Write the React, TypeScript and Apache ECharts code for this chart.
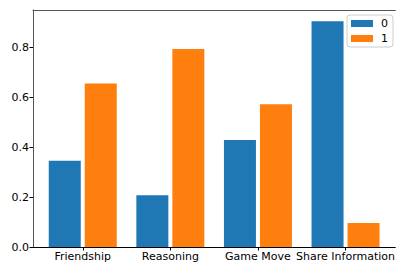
import React, { useEffect, useRef } from "react";
import * as echarts from "echarts";

const categories = ["Friendship", "Reasoning", "Game Move", "Share Information"];
const seriesNames = ["0", "1"];
const series0 = [0.345, 0.207, 0.428, 0.904];
const series1 = [0.655, 0.793, 0.572, 0.096];
const yTicks = [0, 0.2, 0.4, 0.6, 0.8];

const FONT = "DejaVu Sans";

export default function App() {
  const ref = useRef<HTMLDivElement>(null);
  useEffect(() => {
    if (!ref.current) return;
    const chart = echarts.init(ref.current, undefined, { renderer: "svg" });
    const idx = categories.map((_, i) => i);
    const xMin = -0.568;
    const xMax = 3.568;
    chart.setOption({
      animation: false,
      textStyle: { fontFamily: FONT },
      grid: {
        left: 33,
        right: 1,
        top: 10,
        bottom: 18,
        show: false,
      },
      legend: {
        left: 347,
        top: 15,
        orient: "vertical",
        icon: "rect",
        itemWidth: 22,
        itemHeight: 7,
        itemGap: 4,
        padding: [3, 5, 3, 4],
        borderColor: "#cccccc",
        borderWidth: 1,
        borderRadius: 3,
        backgroundColor: "rgba(255,255,255,0.8)",
        textStyle: { fontFamily: FONT, fontSize: 11, color: "#000", padding: [0, 0, 0, 3] },
        data: seriesNames,
      },
      xAxis: [
        {
          type: "value",
          position: "bottom",
          min: xMin,
          max: xMax,
          splitLine: { show: false },
          axisLine: { show: true, onZero: false, lineStyle: { color: "#000", width: 1 } },
          axisTick: {
            show: true,
            length: 3.5,
            lineStyle: { color: "#000" },
            customValues: idx,
          },
          axisLabel: {
            customValues: idx,
            margin: 4,
            fontSize: 11,
            color: "#000",
            fontFamily: FONT,
            formatter: (v: number) => categories[Math.round(v)] ?? "",
          },
        },
        {
          type: "value",
          position: "top",
          min: xMin,
          max: xMax,
          splitLine: { show: false },
          axisLine: { show: true, onZero: false, lineStyle: { color: "#555", width: 1 } },
          axisTick: { show: false },
          axisLabel: { show: false },
        },
      ],
      yAxis: {
        type: "value",
        min: 0,
        max: 0.949,
        splitLine: { show: false },
        axisLine: { show: true, onZero: false, lineStyle: { color: "#555", width: 1 } },
        axisTick: {
          show: true,
          length: 3.5,
          lineStyle: { color: "#000" },
          customValues: yTicks,
        },
        axisLabel: {
          customValues: yTicks,
          margin: 4,
          fontSize: 11,
          color: "#000",
          fontFamily: FONT,
          formatter: (v: number) => v.toFixed(1),
        },
      },
      series: [
        {
          name: seriesNames[0],
          type: "bar",
          xAxisIndex: 0,
          barWidth: 32,
          barGap: "12.5%",
          itemStyle: { color: "#1f77b4" },
          data: series0.map((v, i) => [i, v]),
        },
        {
          name: seriesNames[1],
          type: "bar",
          xAxisIndex: 0,
          barWidth: 32,
          barGap: "12.5%",
          itemStyle: { color: "#ff7f0e" },
          data: series1.map((v, i) => [i, v]),
        },
      ],
    });
    return () => chart.dispose();
  }, []);
  return <div ref={ref} style={{ width: 398, height: 265, position: "absolute", left: 0, top: 0 }} />;
}
